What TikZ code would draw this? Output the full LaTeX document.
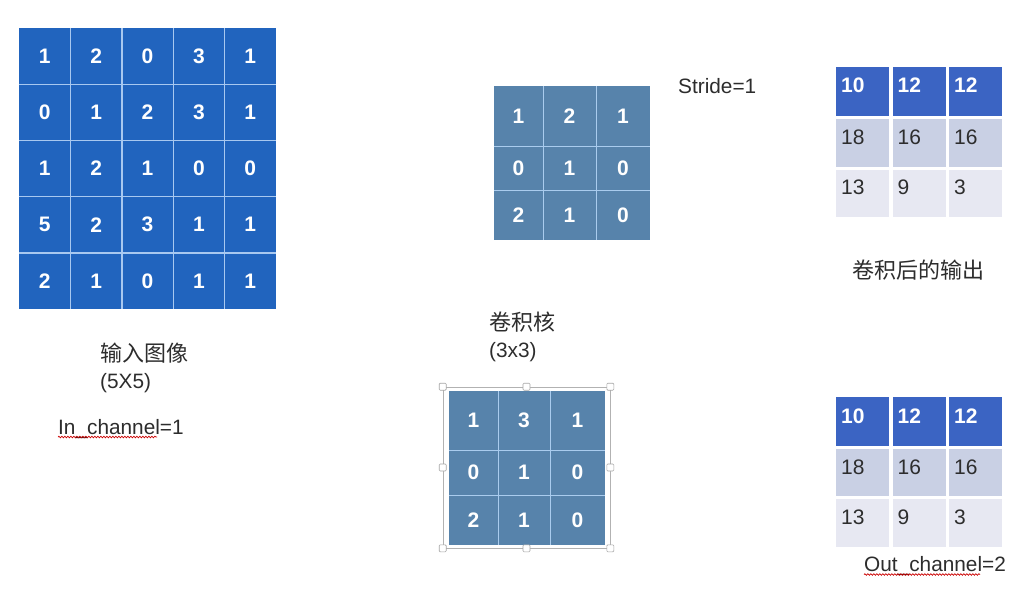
\documentclass[tikz,border=0pt]{standalone}
\usepackage{fontspec}
\setmainfont{Liberation Sans}
\newfontfamily\cjk{Noto Sans CJK SC}
\usetikzlibrary{decorations.pathmorphing}
\definecolor{inblue}{RGB}{33,100,190}
\definecolor{inline}{RGB}{168,200,240}
\definecolor{kblue}{RGB}{87,131,171}
\definecolor{kline}{RGB}{170,204,238}
\definecolor{ohead}{RGB}{59,100,195}
\definecolor{orowa}{RGB}{201,208,228}
\definecolor{orowb}{RGB}{231,232,242}
\definecolor{txt}{RGB}{45,45,45}
\begin{document}
\begin{tikzpicture}[x=1pt,y=-1pt,
  numfont/.style={font=\bfseries\fontsize{21}{21}\selectfont},
  incell/.style={minimum width=51.4pt,minimum height=56.2pt,inner sep=0pt,fill=inblue,text=white,numfont},
  kcell/.style={inner sep=0pt,fill=kblue,text=white,numfont},
  inrule/.style={draw=inline,line width=1.2pt},
  krule/.style={draw=kline,line width=1.2pt},
  ocell/.style={inner sep=0pt,minimum width=56pt,draw=white,line width=3pt},
  ohtext/.style={anchor=base west,inner sep=0pt,text=white,font=\bfseries\fontsize{21}{21}\selectfont},
  ortext/.style={anchor=base west,inner sep=0pt,text=txt,font=\fontsize{21}{21}\selectfont},
  label/.style={anchor=base west,inner sep=0pt,text=txt,font=\fontsize{20.8}{24}\selectfont},
  cjklabel/.style={anchor=base west,inner sep=0pt,text=txt,font=\cjk\fontsize{22}{24}\selectfont},
  wavy/.style={draw=red!80!black,line width=0.7pt,decorate,decoration={snake,amplitude=0.8pt,segment length=3pt}},
  handle/.style={draw=gray!70,fill=white,line width=0.6pt,minimum size=7pt,inner sep=0pt,rounded corners=1pt}
]
\useasboundingbox (0,0) rectangle (1029,598);
\fill[white] (0,0) rectangle (1029,598);

% input image 5x5
\foreach \r/\vals in {0/{1,2,0,3,1},1/{0,1,2,3,1},2/{1,2,1,0,0},3/{5,2,3,1,1},4/{2,1,0,1,1}}{
  \foreach \v [count=\c from 0] in \vals {
    \node[incell] (in-\r-\c) at ({19+51.4*\c+25.7},{28+56.2*\r+28.1}) {\v};
  }
}
\foreach \c in {0,1,2,3}{\draw[inrule] (in-0-\c.north east) -- (in-4-\c.south east);}
\foreach \r in {0,1,2,3}{\draw[inrule] (in-\r-0.south west) -- (in-\r-4.south east);}

% kernel 1
\foreach \r/\yc/\hh/\a/\b/\c in {0/116/60/1/2/1,1/168/44/0/1/0,2/215/50/2/1/0}{
  \node[kcell,minimum width=49pt,minimum height=\hh pt] (ka-\r-0) at (518.5,\yc) {\a};
  \node[kcell,minimum width=53pt,minimum height=\hh pt] (ka-\r-1) at (569.5,\yc) {\b};
  \node[kcell,minimum width=54pt,minimum height=\hh pt] (ka-\r-2) at (623,\yc) {\c};
}
\foreach \c in {0,1}{\draw[krule] (ka-0-\c.north east) -- (ka-2-\c.south east);}
\foreach \r in {0,1}{\draw[krule] (ka-\r-0.south west) -- (ka-\r-2.south east);}

% kernel 2 selection frame
\node[draw=gray!60,line width=0.6pt,minimum width=167pt,minimum height=161pt,inner sep=0pt] (sel) at (526.5,467.5) {};
% kernel 2
\foreach \r/\yc/\hh/\a/\b/\c in {0/420.5/59/1/3/1,1/472.5/45/0/1/0,2/520/50/2/1/0}{
  \node[kcell,minimum width=49pt,minimum height=\hh pt] (kb-\r-0) at (473.5,\yc) {\a};
  \node[kcell,minimum width=52pt,minimum height=\hh pt] (kb-\r-1) at (524,\yc) {\b};
  \node[kcell,minimum width=55pt,minimum height=\hh pt] (kb-\r-2) at (577.5,\yc) {\c};
}
\foreach \c in {0,1}{\draw[krule] (kb-0-\c.north east) -- (kb-2-\c.south east);}
\foreach \r in {0,1}{\draw[krule] (kb-\r-0.south west) -- (kb-\r-2.south east);}
\foreach \p [count=\i] in {north west,north,north east,east,south east,south,south west,west}{
  \node[handle] (h\i) at (sel.\p) {};
}

% output 1
\foreach \r/\yc/\hh/\col/\sty/\a/\b/\c in {0/91.5/52/ohead/ohtext/10/12/12,1/143/51/orowa/ortext/18/16/16,2/193/50/orowb/ortext/13/9/3}{
  \node[ocell,fill=\col,minimum height=\hh pt] (oa-\r-0) at (862.5,\yc) {};
  \node[ocell,fill=\col,minimum height=\hh pt] (oa-\r-1) at (919,\yc) {};
  \node[ocell,fill=\col,minimum height=\hh pt] (oa-\r-2) at (975.5,\yc) {};
  \node[\sty] (ta-\r-0) at ([xshift=8pt,yshift=-1pt]oa-\r-0.west) {\a};
  \node[\sty] (ta-\r-1) at ([xshift=8pt,yshift=-1pt]oa-\r-1.west) {\b};
  \node[\sty] (ta-\r-2) at ([xshift=8pt,yshift=-1pt]oa-\r-2.west) {\c};
}

% output 2
\foreach \r/\yc/\hh/\col/\sty/\a/\b/\c in {0/421.5/52/ohead/ohtext/10/12/12,1/472.5/51/orowa/ortext/18/16/16,2/523/51/orowb/ortext/13/9/3}{
  \node[ocell,fill=\col,minimum height=\hh pt] (ob-\r-0) at (862.5,\yc) {};
  \node[ocell,fill=\col,minimum height=\hh pt] (ob-\r-1) at (919,\yc) {};
  \node[ocell,fill=\col,minimum height=\hh pt] (ob-\r-2) at (975.5,\yc) {};
  \node[\sty] (tb-\r-0) at ([xshift=8pt,yshift=-1.5pt]ob-\r-0.west) {\a};
  \node[\sty] (tb-\r-1) at ([xshift=8pt,yshift=-1.5pt]ob-\r-1.west) {\b};
  \node[\sty] (tb-\r-2) at ([xshift=8pt,yshift=-1.5pt]ob-\r-2.west) {\c};
}

% labels
\node[cjklabel] (lin) at (100,361) {输入图像};
\node[label] (lin2) at (100,388) {(5X5)};
\node[label] (lch) at (58,434) {In\_channel=1};
\draw[wavy] ([yshift=-3pt]lch.base west) -- ++(99,0);
\node[cjklabel] (lk) at (489,330) {卷积核};
\node[label] (lk2) at (489,357) {(3x3)};
\node[label] (ls) at (678,93) {Stride=1};
\node[cjklabel] (lo) at (852,278) {卷积后的输出};
\node[label] (loc) at (864,571) {Out\_channel=2};
\draw[wavy] ([yshift=-3.5pt]loc.base west) -- ++(116,0);
\end{tikzpicture}
\end{document}
